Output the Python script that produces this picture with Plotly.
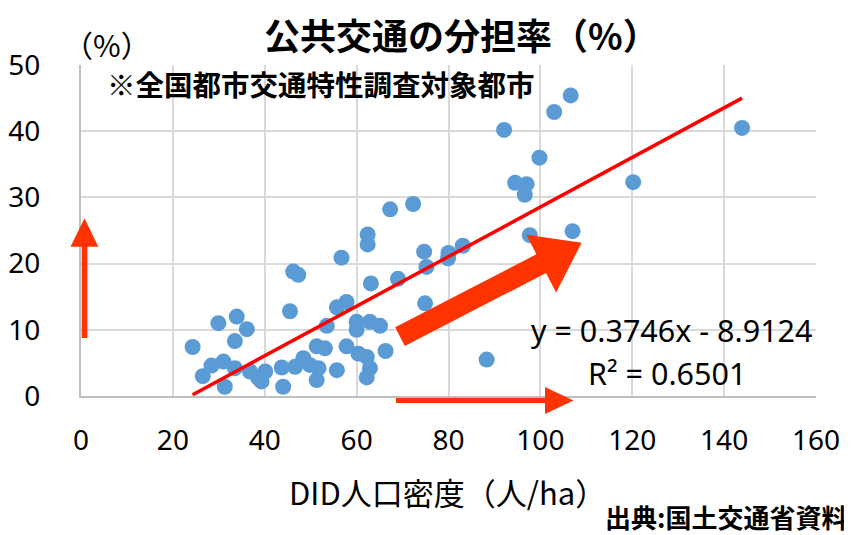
import plotly.graph_objects as go
import math

# ---- data ----
density = [24.3, 26.5, 28.4, 29.9, 31.0, 31.3, 33.5, 33.5, 33.9, 36.1,
           36.8, 38.6, 39.3, 40.1, 43.7, 44.0, 45.5, 46.2, 47.3, 46.6,
           48.4, 49.8, 51.3, 53.1, 51.7, 51.3, 53.5, 55.7, 57.8, 55.7,
           57.8, 60.4, 62.2, 62.9, 62.2, 60.0, 60.0, 62.9, 65.1, 66.3,
           56.7, 63.1, 69.0, 62.4, 62.4, 67.3, 72.3, 74.9, 74.7, 75.2,
           80.0, 79.9, 83.1, 88.3, 92.1, 94.5, 97.0, 96.6, 99.8, 97.7,
           103.0, 106.6, 107.0, 120.2, 143.9]
share = [7.4, 3.0, 4.6, 11.0, 5.2, 1.4, 8.3, 4.2, 12.0, 10.1,
         3.7, 2.7, 2.2, 3.7, 4.3, 1.4, 12.8, 18.8, 18.3, 4.4,
         5.7, 4.7, 7.5, 7.2, 4.2, 2.4, 10.6, 13.4, 14.2, 3.9,
         7.5, 6.4, 5.9, 4.2, 2.8, 11.2, 10.0, 11.2, 10.6, 6.8,
         20.9, 17.0, 17.7, 24.4, 22.9, 28.2, 29.0, 14.0, 21.8, 19.5,
         21.6, 20.8, 22.7, 5.5, 40.2, 32.2, 32.0, 30.4, 36.0, 24.3,
         42.9, 45.4, 24.9, 32.3, 40.5]
slope = 0.3746
intercept = -8.9124
r2 = 0.6501
x_ticks = [0, 20, 40, 60, 80, 100, 120, 140, 160]
y_ticks = [0, 10, 20, 30, 40, 50]

title_text = "公共交通の分担率（%）"
unit_text = "（%）"
note_text = "※全国都市交通特性調査対象都市"
xaxis_title = "DID人口密度（人/ha）"
source_text = "出典:国土交通省資料"

# ---- layout geometry (screen pixels; page body has an 8px margin) ----
OFF = 8
SW, SH = 852, 535
W, H = SW - OFF, SH - OFF
L, R, T, B = 81, 816, 65, 396

def px(x):
    return (x - L) / (R - L)

def py(y):
    return (B - y) / (B - T)

JP = "Noto Sans CJK JP"
NUM = "Noto Sans"
ARROW = "#FF3300"

fig = go.Figure()

fig.add_trace(go.Scatter(
    x=density, y=share, mode="markers",
    marker=dict(size=16, color="#5B9BD5", line=dict(width=0)),
    showlegend=False, hoverinfo="x+y"))

xl = [min(density), max(density)]
fig.add_trace(go.Scatter(
    x=xl, y=[slope * v + intercept for v in xl], mode="lines",
    line=dict(color="#FF0000", width=3.5), showlegend=False))

# ---- arrows (paper coordinates from pixel positions) ----
def poly(points):
    s = "M " + " L ".join(f"{px(a):.5f},{py(b):.5f}" for a, b in points) + " Z"
    return dict(type="path", xref="paper", yref="paper", path=s,
                fillcolor=ARROW, line=dict(width=0), layer="above")

shapes = []
# vertical arrow
shapes.append(poly([(81.7, 338), (87.3, 338), (87.3, 246.7), (98.3, 246.7),
                    (84.5, 218.3), (70.5, 246.7), (81.7, 246.7)]))
# horizontal arrow
shapes.append(poly([(396, 398), (545, 398), (545, 387), (573.5, 400.5),
                    (545, 414), (545, 403), (396, 403)]))
# diagonal thick arrow
tx, ty = 400.0, 336.7
dx, dy = 181.7, -94.0
ln = math.hypot(dx, dy)
ux, uy = dx / ln, dy / ln
nx, ny = -uy, ux
hw, hh, base = 10.5, 32.4, 159.0
bx, by = tx + ux * base, ty + uy * base
tipx, tipy = tx + ux * ln, ty + uy * ln
shapes.append(poly([
    (tx + nx * hw, ty + ny * hw),
    (bx + nx * hw, by + ny * hw),
    (bx + nx * hh, by + ny * hh),
    (tipx, tipy),
    (bx - nx * hh, by - ny * hh),
    (bx - nx * hw, by - ny * hw),
    (tx - nx * hw, ty - ny * hw),
]))

annotations = [
    dict(text=f"<b>{title_text}</b>", x=px(461), y=py(34), xref="paper", yref="paper",
         showarrow=False, font=dict(family=JP, size=36, color="#000000"),
         xanchor="center", yanchor="middle"),
    dict(text=unit_text, x=px(107), y=py(44), xref="paper", yref="paper",
         showarrow=False, font=dict(family=JP, size=30, color="#000000"),
         xanchor="center", yanchor="middle"),
    dict(text=f"<b>{note_text}</b>", x=px(105), y=py(84), xref="paper", yref="paper",
         showarrow=False, font=dict(family=JP, size=28.5, color="#000000"),
         xanchor="left", yanchor="middle"),
    dict(text=f"y = {slope}x - {abs(intercept)}", x=px(671), y=py(330), xref="paper", yref="paper",
         showarrow=False, font=dict(family=NUM, size=30.5, color="#000000"),
         xanchor="center", yanchor="middle"),
    dict(text=f"R² = {r2:.4f}", x=px(667), y=py(373), xref="paper", yref="paper",
         showarrow=False, font=dict(family=NUM, size=30.5, color="#000000"),
         xanchor="center", yanchor="middle"),
    dict(text=xaxis_title, x=px(447), y=py(491), xref="paper", yref="paper",
         showarrow=False, font=dict(family=JP, size=31, color="#000000"),
         xanchor="center", yanchor="middle"),
    dict(text=f"<b>{source_text}</b>", x=px(849), y=py(516), xref="paper", yref="paper",
         showarrow=False, font=dict(family=JP, size=26, color="#000000"),
         xanchor="right", yanchor="middle"),
]

fig.update_layout(
    width=W, height=H,
    margin=dict(l=L - OFF, r=SW - R, t=T - OFF, b=SH - B, pad=0, autoexpand=False),
    paper_bgcolor="white", plot_bgcolor="white",
    shapes=shapes, annotations=annotations,
    xaxis=dict(range=[0, 160], tickvals=x_ticks, ticktext=[str(v) for v in x_ticks],
               showgrid=True, gridcolor="#D9D9D9", gridwidth=1.5,
               showline=True, linecolor="#BFBFBF", linewidth=2, zeroline=False,
               ticks="", ticklabelstandoff=18, automargin=False,
               tickfont=dict(family=NUM, size=28, color="#000000"), mirror=False),
    yaxis=dict(range=[0, 50], tickvals=y_ticks, ticktext=[str(v) for v in y_ticks],
               showgrid=True, gridcolor="#D9D9D9", gridwidth=1.5,
               showline=True, linecolor="#BFBFBF", linewidth=2, zeroline=False,
               ticks="", ticklabelstandoff=33, automargin=False,
               tickfont=dict(family=NUM, size=28, color="#000000")),
)

fig.write_html("out.html")
